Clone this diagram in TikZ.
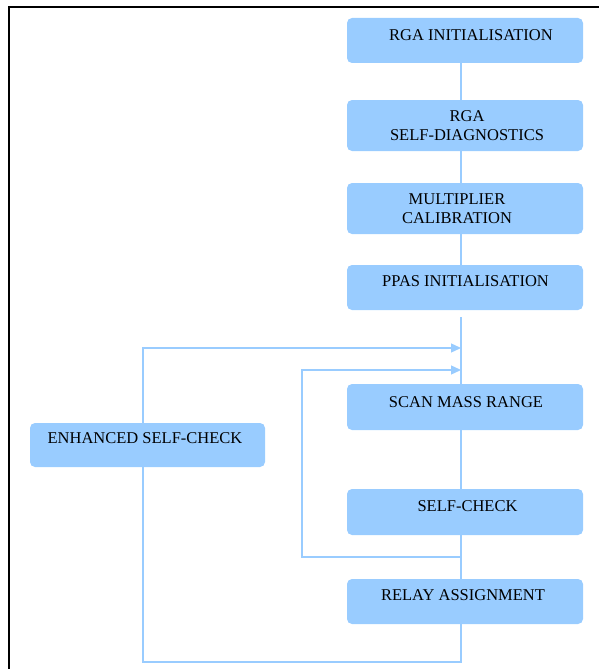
\documentclass[tikz,border=0pt]{standalone}
\usepackage{fontspec}
\setmainfont{Liberation Serif}
\usetikzlibrary{arrows.meta,backgrounds}
\definecolor{boxblue}{HTML}{99CCFF}
\definecolor{lineblue}{HTML}{99CCFF}
\tikzset{
  box/.style={rectangle, rounded corners=5pt, fill=boxblue, draw=none,
    minimum width=236pt, inner sep=0pt},
  txt/.style={inner sep=0pt, align=center, text=black,
    font=\fontsize{16.5}{19}\selectfont},
  conn/.style={draw=lineblue, line width=1.3pt},
  arr/.style={conn, -{Triangle[length=10pt,width=9pt]}},
  frame/.style={draw=black, line width=2pt}
}
\begin{document}
\begin{tikzpicture}[x=1pt,y=-1pt]
\useasboundingbox (0,0) rectangle (599,669);
% frame
\draw[frame] (9,669) -- (9,7) -- (599,7);
% boxes
\node[box, minimum height=45pt] (b1) at (465,40.5) {};
\node[box, minimum height=51pt] (b2) at (465,125.5) {};
\node[box, minimum height=51pt] (b3) at (465,208.5) {};
\node[box, minimum height=45pt] (b4) at (465,287.5) {};
\node[box, minimum height=46pt] (b5) at (465,407) {};
\node[box, minimum height=46pt] (b6) at (465,512) {};
\node[box, minimum height=45pt] (b7) at (465,601.5) {};
\node[box, minimum height=44pt, minimum width=235pt] (enh) at (147.5,445) {};
% texts
\node[txt] (t1) at (471,35) {RGA INITIALISATION};
\node[txt] (t2) at (467,125.5) {RGA\\SELF-DIAGNOSTICS};
\node[txt] (t3) at (457,208.5) {MULTIPLIER\\CALIBRATION};
\node[txt] (t4) at (465.5,281) {PPAS INITIALISATION};
\node[txt] (t5) at (466,402) {SCAN MASS RANGE};
\node[txt] (t6) at (467.5,506) {SELF-CHECK};
\node[txt] (t7) at (463,595) {RELAY ASSIGNMENT};
\node[txt] (t8) at (145,438) {ENHANCED SELF-CHECK};
% coordinates
\coordinate (top5) at (461,317);
\coordinate (j1) at (461,348);
\coordinate (j2) at (461,370);
\coordinate (k1) at (143,348);
\coordinate (k2) at (302,370);
\coordinate (c2) at (143,662);
\coordinate (c3) at (302,557);
\begin{pgfonlayer}{background}
\draw[conn] ([xshift=-4pt]b1.south) -- ([xshift=-4pt]b2.north);
\draw[conn] ([xshift=-4pt]b2.south) -- ([xshift=-4pt]b3.north);
\draw[conn] ([xshift=-4pt]b3.south) -- ([xshift=-4pt]b4.north);
\draw[conn] (top5) -- ([xshift=-4pt]b5.north);
\draw[conn] ([xshift=-4pt]b5.south) -- ([xshift=-4pt]b6.north);
\draw[conn] ([xshift=-4pt]b6.south) -- ([xshift=-4pt]b7.north);
\draw[arr] ([xshift=-4pt]b6.south) |- (c3) -- (k2) -- (j2);
\draw[arr] ([xshift=-4pt]b7.south) |- (c2) -- (k1) -- (j1);
\end{pgfonlayer}
\end{tikzpicture}
\end{document}
